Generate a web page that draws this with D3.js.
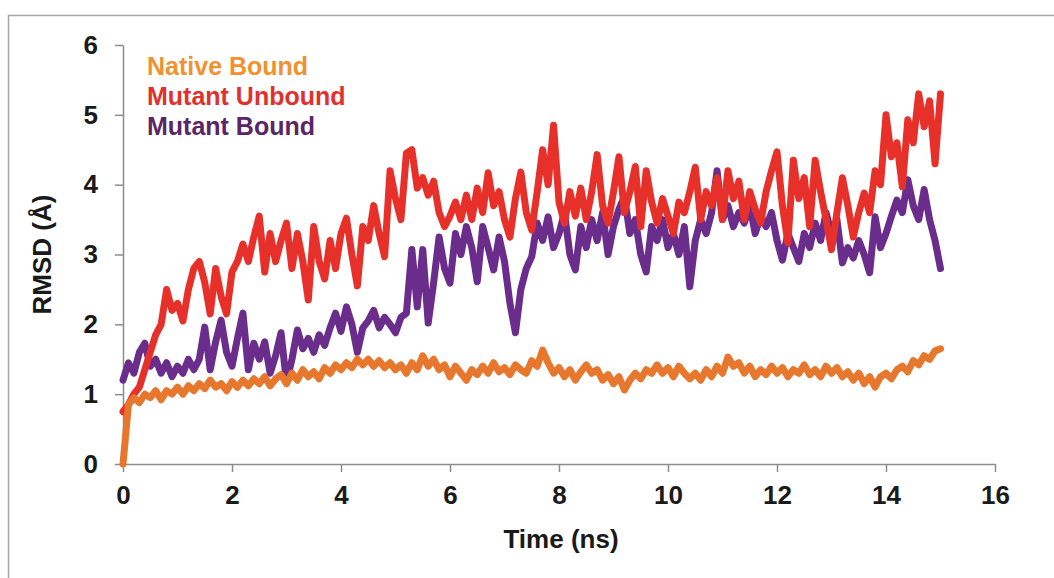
<!DOCTYPE html>
<html>
<head>
<meta charset="utf-8">
<script src="https://cdn.jsdelivr.net/npm/d3@7"></script>
<style>
  body { margin: 0; background: #fff; }
  text { font-family: "Liberation Sans", Arial, sans-serif; font-weight: bold; }
</style>
</head>
<body>
<div id="chart"></div>
<script>
// RMSD values (Å), sampled every 0.1 ns from 0 to 15 ns
const nativeBound = [
  0.0, 0.85, 0.95, 0.88, 1.0, 0.95, 1.05, 0.92, 1.05, 1.0,
  1.1, 1.0, 1.12, 1.05, 1.15, 1.08, 1.2, 1.1, 1.15, 1.05,
  1.18, 1.1, 1.2, 1.12, 1.22, 1.15, 1.25, 1.12, 1.22, 1.28,
  1.15, 1.3, 1.2, 1.35, 1.25, 1.32, 1.22, 1.38, 1.3, 1.42,
  1.35, 1.45, 1.38, 1.5, 1.42, 1.5, 1.4, 1.48, 1.38, 1.45,
  1.35, 1.42, 1.3, 1.45, 1.35, 1.55, 1.4, 1.5, 1.35, 1.42,
  1.25, 1.4, 1.3, 1.2, 1.35, 1.28, 1.4, 1.3, 1.45, 1.32,
  1.38, 1.28, 1.42, 1.35, 1.3, 1.48, 1.4, 1.63, 1.45, 1.3,
  1.38, 1.25, 1.35, 1.2, 1.32, 1.42, 1.3, 1.35, 1.2, 1.28,
  1.15, 1.25, 1.06, 1.2, 1.3, 1.22, 1.35, 1.3, 1.42, 1.3,
  1.38, 1.25, 1.4, 1.3, 1.22, 1.3, 1.2, 1.35, 1.25, 1.4,
  1.3, 1.53, 1.4, 1.45, 1.3, 1.4, 1.25, 1.35, 1.28, 1.4,
  1.3, 1.38, 1.25, 1.35, 1.3, 1.42, 1.28, 1.35, 1.25, 1.4,
  1.3, 1.38, 1.25, 1.32, 1.2, 1.3, 1.15, 1.25, 1.1, 1.25,
  1.3, 1.22, 1.35, 1.4, 1.32, 1.48, 1.42, 1.55, 1.5, 1.62,
  1.65
];
const mutantUnbound = [
  0.75, 0.85, 1.0, 1.1, 1.35, 1.6, 1.85, 2.0, 2.5, 2.2,
  2.3, 2.05, 2.5, 2.8, 2.9, 2.6, 2.15, 2.8, 2.4, 2.15,
  2.75, 2.9, 3.15, 2.9, 3.25, 3.55, 2.75, 3.3, 2.9, 3.2,
  3.45, 2.8, 3.3, 2.9, 2.35, 3.4, 2.9, 2.65, 3.2, 2.8,
  3.3, 3.52, 3.0, 2.55, 3.4, 3.2, 3.7, 3.3, 2.97, 4.2,
  3.8, 3.5, 4.45, 4.5, 3.95, 4.1, 3.85, 4.05, 3.6, 3.4,
  3.55, 3.75, 3.5, 3.85, 3.5, 3.95, 3.6, 4.17, 3.7, 3.9,
  3.5, 3.25, 3.8, 4.18, 3.6, 3.35, 3.9, 4.5, 4.0, 4.85,
  3.75, 3.45, 3.9, 3.55, 3.95, 3.5, 3.9, 4.43, 3.7, 3.45,
  3.9, 4.4, 3.6, 3.9, 4.26, 3.4, 4.2, 3.75, 3.45, 3.8,
  3.55, 3.3, 3.75, 3.6, 3.9, 4.25, 3.5, 3.9, 3.7, 4.1,
  3.5, 4.2, 3.8, 4.05, 3.5, 3.9, 3.65, 3.45, 3.9, 4.2,
  4.47, 3.7, 3.17, 4.35, 3.8, 4.1, 3.4, 4.35, 3.9, 3.5,
  3.07, 3.6, 4.1, 3.7, 3.25, 3.6, 3.88, 3.6, 4.2, 4.0,
  5.0, 4.4, 4.6, 3.97, 4.93, 4.6, 5.3, 4.83, 5.2, 4.3,
  5.3
];
const mutantBound = [
  1.2, 1.45, 1.3, 1.6, 1.73, 1.4, 1.5, 1.3, 1.45, 1.25,
  1.4, 1.3, 1.5, 1.35, 1.5, 1.96, 1.35, 1.75, 2.06, 1.6,
  1.4, 1.8, 2.16, 1.35, 1.73, 1.5, 1.75, 1.3, 1.55, 1.88,
  1.16, 1.5, 1.92, 1.65, 1.8, 1.6, 1.85, 1.7, 1.95, 2.16,
  1.9, 2.25, 2.0, 1.6, 1.95, 2.05, 2.2, 1.95, 2.1, 2.0,
  1.88, 2.1, 2.16, 3.07, 2.25, 3.07, 2.02, 2.6, 3.25, 2.8,
  2.59, 3.3, 3.0, 3.4, 3.1, 2.61, 3.4, 3.1, 2.78, 3.25,
  2.9, 2.3, 1.88, 2.5, 2.8, 2.97, 3.45, 3.2, 3.54, 3.1,
  3.3, 3.6, 3.0, 2.78, 3.4, 3.1, 3.5, 3.2, 3.6, 3.0,
  3.4, 3.65, 3.83, 3.3, 3.5, 3.0, 2.75, 3.4, 3.2, 3.5,
  3.1, 3.3, 3.0, 3.4, 2.54, 3.2, 3.5, 3.3, 3.6, 4.2,
  3.5, 3.7, 3.4, 3.6, 3.45, 3.7, 3.3, 3.55, 3.4, 3.6,
  3.2, 2.92, 3.3, 3.1, 2.9, 3.3, 3.1, 3.45, 3.2, 3.6,
  3.3, 3.5, 2.88, 3.1, 2.95, 3.2, 3.0, 2.74, 3.54, 3.1,
  3.3, 3.55, 3.78, 3.6, 4.07, 3.7, 3.5, 3.93, 3.5, 3.2,
  2.8
];
const timeStep = 0.1;
const xTicks = [0, 2, 4, 6, 8, 10, 12, 14, 16];
const yTicks = [0, 1, 2, 3, 4, 5, 6];

const seriesNames = ["Mutant Bound", "Mutant Unbound", "Native Bound"];
const seriesValues = [mutantBound, mutantUnbound, nativeBound];
const lineColors = ["#6b2d8b", "#e8302b", "#e8772e"];
const legendNames = ["Native Bound", "Mutant Unbound", "Mutant Bound"];
const legendColors = ["#f0922f", "#e2302c", "#5b2567"];

const W = 1054, H = 578;
const margin = { top: 45, right: 59, bottom: 114, left: 123 },
  width = W - margin.left - margin.right,
  height = H - margin.top - margin.bottom;

const root = d3.select("#chart").append("svg")
  .attr("width", W)
  .attr("height", H);

// outer frame
root.append("rect")
  .attr("x", 8.5).attr("y", 15.5)
  .attr("width", 1200).attr("height", 800)
  .attr("fill", "none")
  .attr("stroke", "#a6a6a6")
  .attr("stroke-width", 1.5);

const svg = root.append("g")
  .attr("transform", "translate(" + margin.left + "," + margin.top + ")");

const x = d3.scaleLinear().domain([0, 16]).range([0, width]);
const y = d3.scaleLinear().domain([0, 6]).range([height, 0]);

// X axis
const gx = svg.append("g")
  .attr("transform", "translate(0," + height + ")")
  .call(d3.axisBottom(x).tickValues(xTicks).tickFormat(d3.format("d"))
    .tickSize(8).tickPadding(14).tickSizeOuter(0));
// Y axis
const gy = svg.append("g")
  .call(d3.axisLeft(y).tickValues(yTicks).tickFormat(d3.format("d"))
    .tickSize(8).tickPadding(17).tickSizeOuter(0));

[gx, gy].forEach(function (g) {
  g.select(".domain").attr("stroke", "#8c8c8c").attr("stroke-width", 1.5);
  g.selectAll(".tick line").attr("stroke", "#8c8c8c").attr("stroke-width", 1.5);
  g.selectAll(".tick text")
    .attr("fill", "#1a1a1a")
    .style("font-size", "26px")
    .style("font-family", "Liberation Sans, Arial, sans-serif")
    .style("font-weight", "bold");
});

// lines
const line = d3.line()
  .x(function (d, i) { return x(i * timeStep); })
  .y(function (d) { return y(d); });

svg.append("g")
  .selectAll("path")
  .data(seriesValues)
  .enter()
  .append("path")
  .attr("d", function (d) { return line(d); })
  .attr("fill", "none")
  .attr("stroke", function (d, i) { return lineColors[i]; })
  .attr("stroke-width", 7)
  .attr("stroke-linejoin", "round")
  .attr("stroke-linecap", "round");

// legend
svg.append("g")
  .selectAll("text")
  .data(legendNames)
  .enter()
  .append("text")
  .attr("x", 24)
  .attr("y", function (d, i) { return 30 + i * 30; })
  .attr("fill", function (d, i) { return legendColors[i]; })
  .style("font-size", "25px")
  .text(function (d) { return d; });

// axis titles
root.append("text")
  .attr("x", 561)
  .attr("y", 548)
  .attr("text-anchor", "middle")
  .attr("fill", "#1a1a1a")
  .style("font-size", "26px")
  .text("Time (ns)");

root.append("text")
  .attr("transform", "translate(51," + (margin.top + y(3)) + ") rotate(-90)")
  .attr("text-anchor", "middle")
  .attr("fill", "#1a1a1a")
  .style("font-size", "26px")
  .text("RMSD (Å)");
</script>
</body>
</html>
